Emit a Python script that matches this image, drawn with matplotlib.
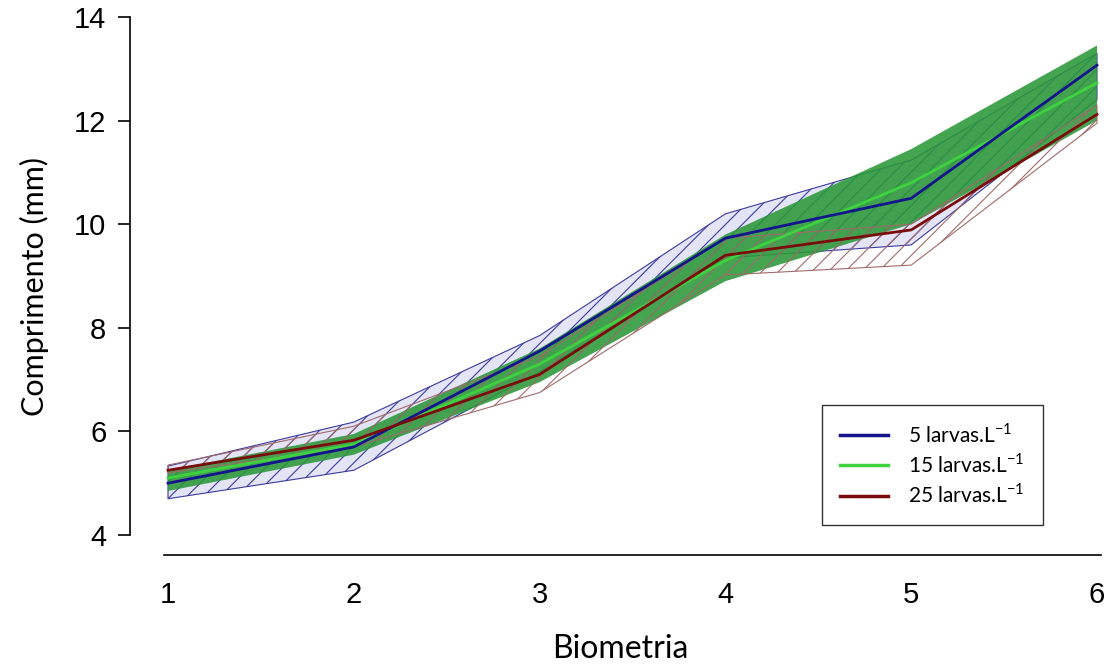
import matplotlib
matplotlib.use('Agg')
from matplotlib import pyplot as plt

# Biometria 1..6, comprimento medio e faixa (mm)
biometria = [1, 2, 3, 4, 5, 6]

med5 = [5.0, 5.7, 7.55, 9.73, 10.5, 13.07]
inf5 = [4.7, 5.25, 7.15, 9.35, 9.6, 12.4]
sup5 = [5.33, 6.18, 7.85, 10.2, 11.24, 13.3]

med15 = [5.1, 5.75, 7.3, 9.3, 10.8, 12.73]
inf15 = [4.85, 5.55, 6.95, 8.9, 10.0, 12.0]
sup15 = [5.25, 5.95, 7.6, 9.8, 11.45, 13.45]

med25 = [5.25, 5.83, 7.1, 9.4, 9.89, 12.12]
inf25 = [5.2, 5.7, 6.75, 9.02, 9.21, 11.95]
sup25 = [5.35, 6.1, 7.45, 9.73, 10.0, 12.3]

rotulos = ['5 larvas.L$^{\\mathrm{-1}}$', '15 larvas.L$^{\\mathrm{-1}}$',
           '25 larvas.L$^{\\mathrm{-1}}$']

plt.rcParams['hatch.linewidth'] = 0.8
plt.rcParams['mathtext.fontset'] = 'custom'
plt.rcParams['mathtext.rm'] = 'Lato'

fig = plt.figure(figsize=(11.16, 6.68), dpi=100)
ax = fig.add_axes([130/1116, 1-555/668, 980/1116, 538/668])

# faixas
ax.fill_between(biometria, inf5, sup5, facecolor='#e4e4f7', edgecolor='#3b3b9c',
                hatch='//', linewidth=0.8, zorder=1)
ax.fill_between(biometria, inf15, sup15, facecolor='#2a9838', edgecolor='none',
                alpha=0.88, linewidth=0, zorder=2)
ax.fill_between(biometria, inf25, sup25, facecolor='none', edgecolor='#a06a6a',
                hatch='//', linewidth=0.8, zorder=3)

# medias
ax.plot(biometria, med5, color='#14148c', lw=2, zorder=5, label=rotulos[0])
ax.plot(biometria, med15, color='#3fd23f', lw=2, zorder=4, label=rotulos[1])
ax.plot(biometria, med25, color='#7a0c0c', lw=2, zorder=6, label=rotulos[2])

ax.set_xlim(1 - 38/185.8, 6 + 13/185.8)
ax.set_ylim(4 - 20/51.8, 14)

for s in ['top', 'right']:
    ax.spines[s].set_visible(False)
ax.spines['left'].set_bounds(4, 14)
ax.spines['bottom'].set_bounds(0.98, 6.02)
ax.spines['left'].set_linewidth(1.2)
ax.spines['bottom'].set_linewidth(1.2)

ax.set_yticks([4, 6, 8, 10, 12, 14])
ax.set_xticks(biometria)
ax.tick_params(axis='y', length=9, width=1.2, pad=8, labelsize=21)
ax.tick_params(axis='x', length=0, pad=19, labelsize=21)
for t in ax.get_xticklabels() + ax.get_yticklabels():
    t.set_fontfamily('Liberation Sans')

ax.set_xlabel('Biometria', fontsize=23, fontfamily='Lato', labelpad=18)
ax.set_ylabel('Comprimento (mm)', fontsize=22, fontfamily='Lato', labelpad=18)

leg = ax.legend(loc='upper left', bbox_to_anchor=(822/1116, 1-405/668),
                bbox_transform=fig.transFigure, borderaxespad=0, fancybox=False,
                edgecolor='black', prop={'family': 'Lato', 'size': 15},
                handlelength=2.3, handletextpad=1.0, borderpad=0.85,
                labelspacing=0.3)
leg.get_frame().set_linewidth(1.0)
for l in leg.get_lines():
    l.set_linewidth(2.5)

fig.savefig('out.png', dpi=100)
